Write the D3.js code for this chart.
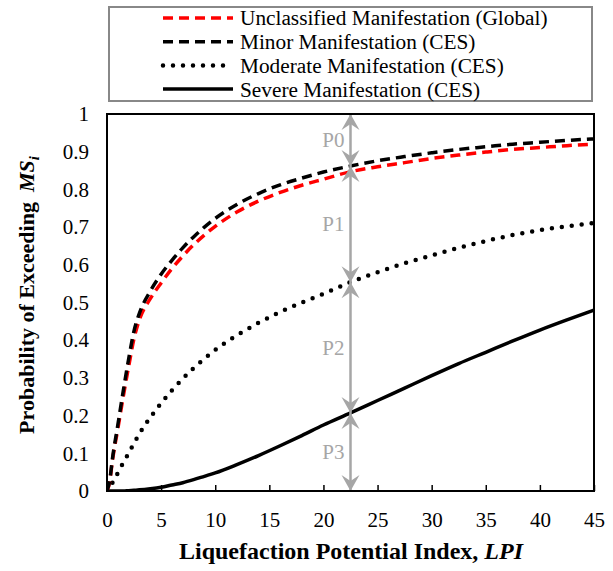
<!DOCTYPE html>
<html>
<head>
<meta charset="utf-8">
<script src="https://cdn.jsdelivr.net/npm/d3@7"></script>
<style>
  body { margin: 0; background: #fff; }
  svg { display: block; font-family: "Liberation Serif", "Times New Roman", serif; }
</style>
</head>
<body>
<svg id="chart" width="613" height="571"></svg>
<script>
const lpi = [0, 0.25, 0.5, 1, 1.5, 2, 2.5, 3, 4, 5, 6, 7, 8, 9, 10, 12, 14, 16, 18, 20,
  22.5, 25, 27.5, 30, 32.5, 35, 37.5, 40, 42.5, 45];

// probability of exceeding each manifestation severity
const unclassified = [0, 0.025, 0.08, 0.165, 0.25, 0.33, 0.405, 0.455, 0.51, 0.552, 0.59, 0.623, 0.653, 0.679, 0.702,
  0.74, 0.769, 0.792, 0.811, 0.827, 0.847, 0.86, 0.871, 0.882, 0.891, 0.899, 0.906, 0.911, 0.916, 0.92];
const minor = [0, 0.028, 0.085, 0.175, 0.265, 0.35, 0.425, 0.472, 0.53, 0.575, 0.612, 0.645, 0.674, 0.7, 0.723,
  0.76, 0.789, 0.812, 0.83, 0.846, 0.862, 0.876, 0.887, 0.897, 0.906, 0.913, 0.92, 0.925, 0.93, 0.934];
const moderate = [0, 0.01, 0.022, 0.048, 0.075, 0.1, 0.127, 0.152, 0.195, 0.233, 0.267, 0.298, 0.326, 0.351, 0.374,
  0.413, 0.446, 0.475, 0.5, 0.523, 0.554, 0.58, 0.604, 0.625, 0.645, 0.663, 0.679, 0.692, 0.702, 0.711];
const severe = [0, 0, 0, 0, 0, 0.001, 0.002, 0.003, 0.006, 0.01, 0.016, 0.022, 0.03, 0.039, 0.048,
  0.07, 0.094, 0.12, 0.147, 0.175, 0.207, 0.24, 0.273, 0.306, 0.338, 0.368, 0.398, 0.427, 0.454, 0.48];

const seriesNames = ['Unclassified Manifestation (Global)', 'Minor Manifestation (CES)',
  'Moderate Manifestation (CES)', 'Severe Manifestation (CES)'];

const xTicks = [0, 5, 10, 15, 20, 25, 30, 35, 40, 45];
const yTicks = [0, 0.1, 0.2, 0.3, 0.4, 0.5, 0.6, 0.7, 0.8, 0.9, 1];

// probability bands shown with the grey arrows
const bandLpi = 22.5;
const bandLabels = ['P0', 'P1', 'P2', 'P3'];

const svg = d3.select('#chart');

const x = d3.scaleLinear().domain([0, 45]).range([107, 594]);
const y = d3.scaleLinear().domain([0, 1]).range([491, 114]);

const styles = [
  { color: '#ff0000', width: 3.5, dash: '10,6', cap: 'butt' },
  { color: '#000000', width: 3.5, dash: '10,6', cap: 'butt' },
  { color: '#000000', width: 4.5, dash: '0,10', cap: 'round' },
  { color: '#000000', width: 3.5, dash: null, cap: 'butt' }
];
const allSeries = [unclassified, minor, moderate, severe];

// y axis labels (no tick marks)
svg.append('g')
  .attr('transform', 'translate(' + x(0) + ',0)')
  .call(d3.axisLeft(y).tickValues(yTicks).tickSize(0).tickPadding(18).tickFormat(d => String(d)))
  .call(g => g.select('.domain').remove())
  .selectAll('text')
  .attr('font-size', 21)
  .attr('font-family', '"Liberation Serif", serif')
  .attr('fill', '#000');

// x axis, ticks pointing inward
svg.append('g')
  .attr('transform', 'translate(0,' + y(0) + ')')
  .call(d3.axisBottom(x).tickValues(xTicks).tickSizeInner(-6).tickSizeOuter(0).tickPadding(21))
  .call(g => g.select('.domain').remove())
  .call(g => g.selectAll('line').attr('stroke', '#000').attr('stroke-width', 1.5))
  .selectAll('text')
  .attr('font-size', 21)
  .attr('font-family', '"Liberation Serif", serif')
  .attr('fill', '#000');

// curves
const line = d3.line()
  .x((d, i) => x(lpi[i]))
  .y(d => y(d))
  .curve(d3.curveMonotoneX);

svg.append('clipPath').attr('id', 'plotclip')
  .append('rect')
  .attr('x', x(0)).attr('y', y(1) - 2)
  .attr('width', x(45) - x(0) + 2).attr('height', y(0) - y(1) + 2);

// black minor curve ends up on top of the red one near the origin
[3, 2, 0, 1].forEach(k => {
  const s = styles[k];
  svg.append('path')
    .datum(allSeries[k])
    .attr('clip-path', 'url(#plotclip)')
    .attr('d', line)
    .attr('fill', 'none')
    .attr('stroke', s.color)
    .attr('stroke-width', s.width)
    .attr('stroke-linecap', s.cap)
    .attr('stroke-dasharray', s.dash);
});

// grey arrows at LPI = 22.5
const bi = lpi.indexOf(bandLpi);
const stops = [1, minor[bi], moderate[bi], severe[bi], 0];
const grey = '#a6a6a6';
const ax = x(bandLpi);

svg.append('line')
  .attr('x1', ax).attr('x2', ax)
  .attr('y1', y(1)).attr('y2', y(0))
  .attr('stroke', grey).attr('stroke-width', 2.5);

function arrowHead(py, dir) {
  // dir -1 points up, +1 points down
  const L = 16, W = 9, N = 10;
  return 'M' + ax + ',' + py +
    'L' + (ax - W) + ',' + (py - dir * L) +
    'L' + ax + ',' + (py - dir * N) +
    'L' + (ax + W) + ',' + (py - dir * L) + 'Z';
}

stops.forEach((v, i) => {
  if (i > 0) svg.append('path').attr('d', arrowHead(y(v), 1)).attr('fill', grey);
  if (i < stops.length - 1) svg.append('path').attr('d', arrowHead(y(v), -1)).attr('fill', grey);
});

bandLabels.forEach((lab, i) => {
  svg.append('text')
    .attr('x', ax - 6)
    .attr('y', y((stops[i] + stops[i + 1]) / 2))
    .attr('dy', '0.35em')
    .attr('text-anchor', 'end')
    .attr('font-size', 21)
    .attr('fill', grey)
    .text(lab);
});

// plot frame
svg.append('rect')
  .attr('x', x(0)).attr('y', y(1))
  .attr('width', x(45) - x(0)).attr('height', y(0) - y(1))
  .attr('fill', 'none')
  .attr('stroke', '#000')
  .attr('stroke-width', 2);

// legend
const legend = svg.append('g');
legend.append('rect')
  .attr('x', 109).attr('y', 7)
  .attr('width', 483).attr('height', 94)
  .attr('fill', '#fff')
  .attr('stroke', '#888')
  .attr('stroke-width', 2);

seriesNames.forEach((name, k) => {
  const s = styles[k];
  const ly = 18 + k * 23.7;
  legend.append('line')
    .attr('x1', 163).attr('x2', 233)
    .attr('y1', ly).attr('y2', ly)
    .attr('stroke', s.color)
    .attr('stroke-width', s.width)
    .attr('stroke-linecap', s.cap)
    .attr('stroke-dasharray', s.dash);
  legend.append('text')
    .attr('x', 240).attr('y', ly)
    .attr('dy', '0.35em')
    .attr('font-size', 21.3)
    .text(name);
});

// axis titles
svg.append('text')
  .attr('x', 351).attr('y', 559)
  .attr('text-anchor', 'middle')
  .attr('font-size', 24)
  .attr('font-weight', 'bold')
  .call(t => {
    t.append('tspan').text('Liquefaction Potential Index, ');
    t.append('tspan').attr('font-style', 'italic').text('LPI');
  });

svg.append('text')
  .attr('transform', 'translate(34,295) rotate(-90)')
  .attr('text-anchor', 'middle')
  .attr('font-size', 22)
  .attr('font-weight', 'bold')
  .call(t => {
    t.append('tspan').text('Probability of Exceeding');
    t.append('tspan').attr('dx', 10).attr('font-style', 'italic').text('MS');
    t.append('tspan').attr('font-style', 'italic').attr('font-size', 15).attr('dy', 5).text('i');
  });
</script>
</body>
</html>
